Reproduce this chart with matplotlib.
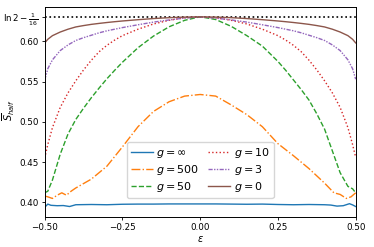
import numpy as np
import matplotlib
matplotlib.use("Agg")
import matplotlib.pyplot as plt

# epsilon grid shared by the smooth curves
eps = [-0.5, -0.49, -0.475, -0.45, -0.425, -0.4, -0.375, -0.35, -0.325, -0.3, -0.275, -0.25,
       -0.2, -0.15, -0.1, -0.05, 0.0, 0.05, 0.1, 0.15, 0.2,
       0.25, 0.275, 0.3, 0.325, 0.35, 0.375, 0.4, 0.425, 0.45, 0.475, 0.49, 0.5]

s_g0 = [0.598, 0.6025, 0.607, 0.6115, 0.615, 0.6178, 0.6195, 0.621, 0.6222, 0.6233, 0.6243, 0.6252,
        0.6268, 0.6282, 0.6293, 0.630, 0.6303, 0.630, 0.6293, 0.6282, 0.6268,
        0.6252, 0.6243, 0.6233, 0.6222, 0.621, 0.6195, 0.6178, 0.615, 0.6115, 0.607, 0.6025, 0.598]
s_g3 = [0.552, 0.566, 0.577, 0.5885, 0.5955, 0.601, 0.6045, 0.6075, 0.6105, 0.613, 0.615, 0.617,
        0.6205, 0.6238, 0.6265, 0.6288, 0.6302, 0.6288, 0.6265, 0.6238, 0.6205,
        0.617, 0.615, 0.613, 0.6105, 0.6075, 0.6045, 0.601, 0.5955, 0.5885, 0.577, 0.566, 0.553]
s_g10 = [0.455, 0.472, 0.493, 0.518, 0.536, 0.551, 0.5645, 0.5765, 0.587, 0.595, 0.6015, 0.607,
         0.615, 0.6215, 0.626, 0.6292, 0.6303, 0.6292, 0.626, 0.6215, 0.615,
         0.607, 0.6015, 0.595, 0.587, 0.5765, 0.5645, 0.551, 0.536, 0.518, 0.493, 0.472, 0.456]
s_g50 = [0.412, 0.414, 0.428, 0.460, 0.485, 0.503, 0.517, 0.530, 0.542, 0.5535, 0.564, 0.574,
         0.592, 0.6065, 0.618, 0.626, 0.6305, 0.627, 0.6185, 0.607, 0.594,
         0.575, 0.564, 0.552, 0.540, 0.527, 0.510, 0.491, 0.464, 0.437, 0.420, 0.417, 0.412]

eps_500 = [-0.5, -0.49, -0.475, -0.46, -0.445, -0.43, -0.415, -0.4, -0.35, -0.3, -0.25, -0.2, -0.15, -0.1, -0.05, 0.0,
           0.05, 0.1, 0.15, 0.2, 0.25, 0.3, 0.35, 0.4, 0.43, 0.45, 0.47, 0.485, 0.5]
s_g500 = [0.408, 0.407, 0.405, 0.409, 0.412, 0.409, 0.414, 0.418, 0.429, 0.445, 0.469, 0.494, 0.513, 0.525, 0.532, 0.534,
          0.532, 0.521, 0.509, 0.494, 0.473, 0.458, 0.442, 0.424, 0.412, 0.410, 0.405, 0.407, 0.412]

eps_inf = [-0.5, -0.49, -0.48, -0.46, -0.44, -0.42, -0.4, -0.35, -0.3, -0.25, -0.2, -0.15, -0.1, -0.05, 0.0,
           0.05, 0.1, 0.15, 0.2, 0.25, 0.3, 0.35, 0.4, 0.42, 0.44, 0.46, 0.48, 0.49, 0.5]
s_ginf = [0.394, 0.398, 0.3965, 0.396, 0.3962, 0.395, 0.3972, 0.3975, 0.3972, 0.3978, 0.398, 0.398, 0.3982, 0.3982, 0.3982,
          0.3982, 0.398, 0.3978, 0.398, 0.3975, 0.3972, 0.3975, 0.3972, 0.3968, 0.3955, 0.396, 0.3985, 0.397, 0.395]

s_limit = np.log(2) - 1 / 16

fig = plt.figure(figsize=(3.74, 2.47), dpi=100)
ax = fig.add_axes([0.1195, 0.1215, 0.8315, 0.85])

lw = 1.0
ax.axhline(s_limit, color="k", ls=":", lw=1.2)
ax.plot(eps_inf, s_ginf, color="C0", ls="-", lw=lw, label=r"$g=\infty$")
ax.plot(eps_500, s_g500, color="C1", ls="-.", lw=lw, label=r"$g=500$")
ax.plot(eps, s_g50, color="C2", ls="--", lw=lw, label=r"$g=50$")
ax.plot(eps, s_g10, color="C3", ls=":", lw=lw, label=r"$g=10$")
ax.plot(eps, s_g3, color="C4", ls=(0, (3, 1, 1, 1, 1, 1)), lw=lw, label=r"$g=3$")
ax.plot(eps, s_g0, color="C5", ls="-", lw=lw, label=r"$g=0$")

ax.set_xlim(-0.5, 0.5)
ax.set_ylim(0.382, 0.6425)
ax.set_xticks([-0.5, -0.25, 0.0, 0.25, 0.5])
ax.set_xticklabels(["\u22120.50", "\u22120.25", "0.00", "0.25", "0.50"])
ax.set_yticks([0.40, 0.45, 0.50, 0.55, 0.60, s_limit])
ax.set_yticklabels(["0.40", "0.45", "0.50", "0.55", "0.60", r"$\ln 2-\frac{1}{16}$"])
ax.tick_params(labelsize=6.3, length=2.5, width=0.6, pad=2)
for sp in ax.spines.values():
    sp.set_linewidth(0.7)

ax.set_xlabel(r"$\varepsilon$", fontsize=7, labelpad=1)
# y label sits just inside the left edge, between the 0.55 and 0.50 ticks
fig.text(9 / 374, 0.555, r"$\overline{S}_{half}$", rotation=90, ha="center", va="center", fontsize=7)

ax.legend(ncol=2, loc="lower center", bbox_to_anchor=(0.5, 0.09), borderaxespad=0,
          fontsize=8, handlelength=2, columnspacing=0.8, labelspacing=0.3,
          handletextpad=0.3, borderpad=0.35)

fig.savefig("out.png", dpi=100)
